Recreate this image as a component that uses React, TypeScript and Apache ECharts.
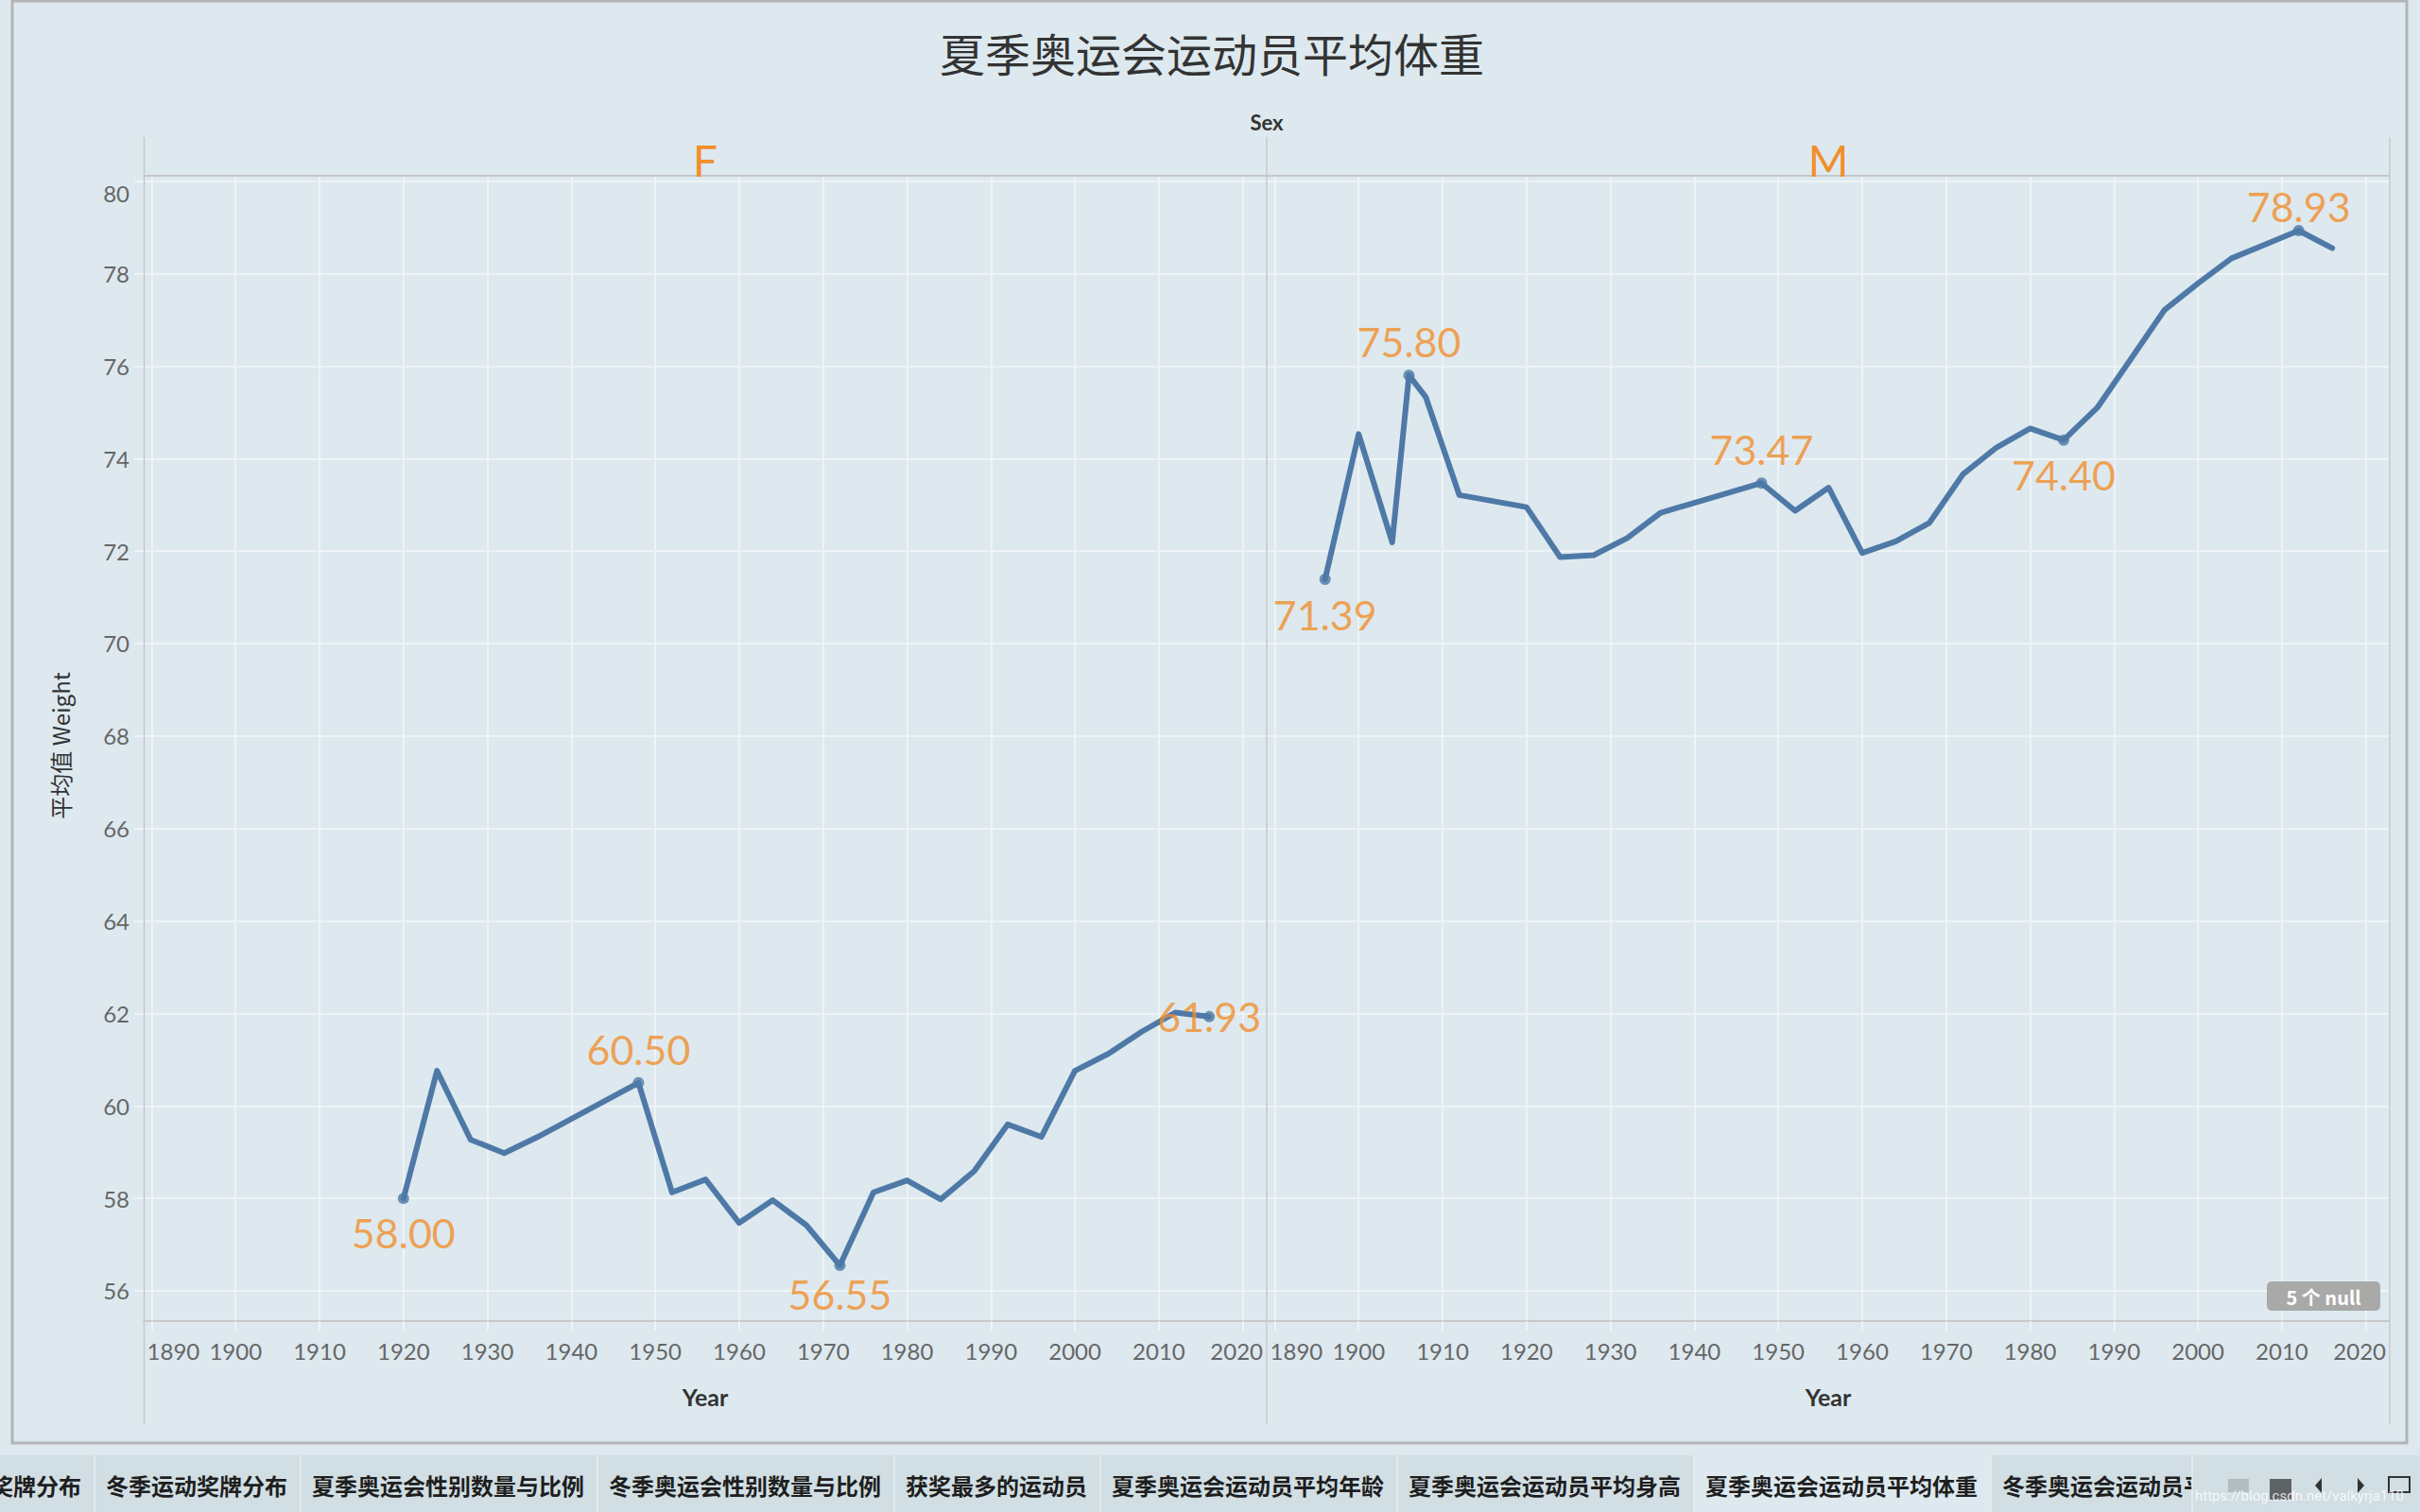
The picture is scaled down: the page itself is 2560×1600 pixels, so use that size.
import React, { useEffect, useRef } from 'react';
import * as echarts from 'echarts';

// ---------- data ----------
const sexCategories = ['F', 'M'];
const femaleYears = [1920, 1924, 1928, 1932, 1936, 1948, 1952, 1956, 1960, 1964, 1968, 1972, 1976, 1980, 1984, 1988, 1992, 1996, 2000, 2004, 2008, 2012, 2016];
const femaleWeight = [58.0, 60.76, 59.27, 58.98, 59.33, 60.5, 58.13, 58.41, 57.47, 57.96, 57.42, 56.55, 58.13, 58.39, 57.98, 58.59, 59.6, 59.33, 60.76, 61.13, 61.61, 62.02, 61.93];
const maleYears = [1896, 1900, 1904, 1906, 1908, 1912, 1920, 1924, 1928, 1932, 1936, 1948, 1952, 1956, 1960, 1964, 1968, 1972, 1976, 1980, 1984, 1988, 1992, 1996, 2000, 2004, 2008, 2012, 2016];
const maleWeight = [71.39, 74.53, 72.19, 75.8, 75.33, 73.21, 72.95, 71.87, 71.91, 72.28, 72.83, 73.47, 72.87, 73.37, 71.96, 72.21, 72.61, 73.66, 74.24, 74.65, 74.4, 75.1, 76.15, 77.21, 77.79, 78.33, 78.63, 78.93, 78.55];
const femaleLabelYears = [1920, 1948, 1972, 2016];
const maleLabelYears = [1896, 1906, 1948, 1984, 2012];
const yTickValues = [56, 58, 60, 62, 64, 66, 68, 70, 72, 74, 76, 78, 80];
const xTickValues = [1890, 1900, 1910, 1920, 1930, 1940, 1950, 1960, 1970, 1980, 1990, 2000, 2010, 2020];
const tabNames = ['奖牌分布', '冬季运动奖牌分布', '夏季奥运会性别数量与比例', '冬季奥运会性别数量与比例', '获奖最多的运动员', '夏季奥运会运动员平均年龄', '夏季奥运会运动员平均身高', '夏季奥运会运动员平均体重', '冬季奥运会运动员平'];
const activeTab = '夏季奥运会运动员平均体重';
const nullNote = '5 个 null';
const titleText = '夏季奥运会运动员平均体重';
const yAxisTitle = '平均值 Weight';
const xAxisTitle = 'Year';
const headerTitle = 'Sex';

// ---------- style ----------
const BG = '#dde9ef';
const GRID = '#eff3f5';
const BORDER = '#c8c8c8';
const LINE = '#4e79a7';
const ORANGE = '#f28e2b';
const NUM_FONT = 'Lato';
const CJK_FONT = 'Noto Sans CJK SC';

const labelPlacement: Record<string, any> = {
  'F1920': { position: 'bottom', distance: 9 },
  'F1948': { position: 'top', distance: 8 },
  'F1972': { position: 'bottom', distance: 3 },
  'F2016': { position: 'inside' },
  'M1896': { position: 'bottom', distance: 10 },
  'M1906': { position: 'top', distance: 8 },
  'M1948': { position: 'top', distance: 8 },
  'M1984': { position: 'bottom', distance: 9 },
  'M2012': { position: 'top', distance: -2 },
};

function App() {
  const ref = useRef<HTMLDivElement>(null);
  useEffect(() => {
    if (!ref.current) return;
    const chart = echarts.init(ref.current, null, { renderer: 'svg' });

    const panelLeft = [152, 1340];
    const panelWidth = 1188;
    const gridTop = 186;
    const gridHeight = 1212;
    const xMin = 1889.05;
    const xMax = 2022.85;
    const yMin = 55.346;
    const yMax = 80.116;

    const isTick = (v: number, ticks: number[]) => ticks.some((t) => Math.abs(t - v) < 1e-6);
    const labelStyle = { fontSize: 24, color: '#666666', fontFamily: NUM_FONT };

    const xAxes = sexCategories.map((_, i) => ({
      type: 'value',
      gridIndex: i,
      min: xMin,
      max: xMax,
      splitNumber: 13,
      axisLine: { show: true, lineStyle: { color: BORDER, width: 2 } },
      axisTick: { show: true, length: 10, lineStyle: { color: GRID, width: 2 } },
      splitLine: { show: true, showMinLine: false, showMaxLine: false, lineStyle: { color: GRID, width: 2 } },
      axisLabel: {
        show: true,
        margin: 19,
        ...labelStyle,
        showMinLabel: false,
        showMaxLabel: false,
        formatter: (v: number) => {
          if (!isTick(v, xTickValues)) return '';
          const r = Math.round(v);
          if (r === xTickValues[0]) return '{first|' + r + '}';
          if (r === xTickValues[xTickValues.length - 1]) return '{last|' + r + '}';
          return String(r);
        },
        rich: {
          first: { padding: [0, 0, 0, 46], ...labelStyle },
          last: { padding: [0, 13, 0, 0], ...labelStyle },
        },
      },
    }));

    const yAxes = sexCategories.map((_, i) => ({
      type: 'value',
      gridIndex: i,
      min: yMin,
      max: yMax,
      splitNumber: 12,
      axisLine: { show: false },
      axisTick: { show: i === 0, length: 10, lineStyle: { color: GRID, width: 2 } },
      splitLine: { show: true, showMinLine: false, showMaxLine: false, lineStyle: { color: GRID, width: 2 } },
      axisLabel: {
        show: i === 0,
        margin: 15,
        ...labelStyle,
        showMinLabel: false,
        showMaxLabel: false,
        formatter: (v: number) => {
          if (!isTick(v, yTickValues)) return '';
          const r = Math.round(v);
          if (r === yTickValues[yTickValues.length - 1]) return '{top|' + r + '}';
          return String(r);
        },
        rich: {
          top: { padding: [25, 0, 0, 0], ...labelStyle },
        },
      },
    }));

    const groups = [
      { key: 'F', years: femaleYears, values: femaleWeight, labels: femaleLabelYears },
      { key: 'M', years: maleYears, values: maleWeight, labels: maleLabelYears },
    ];

    const series: any[] = [];
    groups.forEach((g, i) => {
      series.push({
        type: 'line',
        name: g.key,
        xAxisIndex: i,
        yAxisIndex: i,
        data: g.years.map((y, k) => [y, g.values[k]]),
        symbol: 'none',
        lineStyle: { color: LINE, width: 6, cap: 'round', join: 'round' },
        z: 3,
      });
      series.push({
        type: 'scatter',
        name: g.key + ' labels',
        xAxisIndex: i,
        yAxisIndex: i,
        symbol: 'circle',
        symbolSize: 12,
        itemStyle: { color: LINE },
        z: 4,
        data: g.labels.map((yr) => {
          const idx = g.years.indexOf(yr);
          const place = labelPlacement[g.key + yr] || { position: 'top', distance: 10 };
          return {
            value: [yr, g.values[idx]],
            label: {
              show: true,
              ...place,
              color: ORANGE,
              fontSize: 43,
              fontFamily: NUM_FONT,
              formatter: (p: any) => p.value[1].toFixed(2),
            },
          };
        }),
      });
    });

    // tabs
    const tabElems: any[] = [];
    tabElems.push({ type: 'rect', shape: { x: 0, y: 1540, width: 2560, height: 60 }, style: { fill: '#d1dee4' }, z: 50 });
    const tabRects: { name: string; x0: number; x1: number }[] = [];
    tabRects.push({ name: tabNames[0], x0: 100 - 14 - tabNames[0].length * 24 - 12, x1: 100 });
    let tx = 100;
    for (let i = 1; i < tabNames.length; i++) {
      const w = i === tabNames.length - 1 ? 12 * 24 + 26 : tabNames[i].length * 24 + 26;
      tabRects.push({ name: tabNames[i], x0: tx, x1: tx + w });
      tx += w;
    }
    tabRects.forEach((t) => {
      if (t.name === activeTab) {
        tabElems.push({ type: 'rect', shape: { x: t.x0, y: 1540, width: t.x1 - t.x0, height: 60 }, style: { fill: BG }, z: 51 });
      }
      tabElems.push({
        type: 'text',
        x: t.x0 + 12,
        y: 1571,
        style: { text: t.name, fontSize: 24, fontWeight: 'bold', fontFamily: CJK_FONT, fill: '#1e1e1e', verticalAlign: 'middle', align: 'left' },
        z: 52,
      });
      tabElems.push({ type: 'line', shape: { x1: t.x1, y1: 1540, x2: t.x1, y2: 1600 }, style: { stroke: '#e6eef2', lineWidth: 1.5 }, z: 52 });
    });
    tabElems.push({ type: 'rect', shape: { x: 2319, y: 1540, width: 241, height: 60 }, style: { fill: '#d1dee4' }, z: 53 });
    tabElems.push({ type: 'line', shape: { x1: 2319, y1: 1540, x2: 2319, y2: 1600 }, style: { stroke: '#e6eef2', lineWidth: 1.5 }, z: 54 });
    tabElems.push({ type: 'rect', shape: { x: 2357, y: 1565, width: 22, height: 14 }, style: { fill: '#b3bcc0' }, z: 54 });
    tabElems.push({ type: 'rect', shape: { x: 2401, y: 1565, width: 23, height: 22 }, style: { fill: '#5e6366' }, z: 54 });
    tabElems.push({ type: 'polygon', shape: { points: [[2456, 1564], [2456, 1580], [2449, 1572]] }, style: { fill: '#333' }, z: 54 });
    tabElems.push({ type: 'polygon', shape: { points: [[2494, 1564], [2494, 1580], [2501, 1572]] }, style: { fill: '#333' }, z: 54 });
    tabElems.push({ type: 'rect', shape: { x: 2527, y: 1563, width: 22, height: 16 }, style: { fill: 'none', stroke: '#333', lineWidth: 2 }, z: 54 });
    tabElems.push({
      type: 'text', x: 2322, y: 1583,
      style: { text: 'https://blog.csdn.net/valkyrja110', fontSize: 15, fontFamily: 'Roboto', fill: 'rgba(255,255,255,0.8)', verticalAlign: 'middle' },
      z: 55,
    });

    const option: any = {
      animation: false,
      backgroundColor: BG,
      grid: panelLeft.map((l) => ({ left: l, top: gridTop, width: panelWidth, height: gridHeight, containLabel: false })),
      xAxis: xAxes,
      yAxis: yAxes,
      series,
      graphic: [
        { type: 'rect', shape: { x: 13, y: 1, width: 2533, height: 1526 }, style: { fill: 'none', stroke: '#b4b4b4', lineWidth: 3 }, z: 100 },
        { type: 'line', shape: { x1: 152.5, y1: 145, x2: 152.5, y2: 1507 }, style: { stroke: BORDER, lineWidth: 1.5 }, z: 100 },
        { type: 'line', shape: { x1: 1340, y1: 145, x2: 1340, y2: 1507 }, style: { stroke: BORDER, lineWidth: 1.5 }, z: 100 },
        { type: 'line', shape: { x1: 2528, y1: 145, x2: 2528, y2: 1507 }, style: { stroke: BORDER, lineWidth: 1.5 }, z: 100 },
        { type: 'line', shape: { x1: 152, y1: 186, x2: 2528, y2: 186 }, style: { stroke: BORDER, lineWidth: 2 }, z: 100 },
        { type: 'text', x: 1282, y: 55, style: { text: titleText, fontSize: 48, fontFamily: CJK_FONT, fill: '#333333', align: 'center', verticalAlign: 'middle' }, z: 100 },
        { type: 'text', x: 1340, y: 129, style: { text: headerTitle, fontSize: 22, fontWeight: 'bold', fontFamily: NUM_FONT, fill: '#333333', align: 'center', verticalAlign: 'middle' }, z: 100 },
        ...sexCategories.map((s, i) => ({
          type: 'text', x: panelLeft[i] + panelWidth / 2, y: 169,
          style: { text: s, fontSize: 46, fontFamily: NUM_FONT, fill: ORANGE, align: 'center', verticalAlign: 'middle' }, z: 100,
        })),
        ...sexCategories.map((_, i) => ({
          type: 'text', x: panelLeft[i] + panelWidth / 2, y: 1478,
          style: { text: xAxisTitle, fontSize: 25, fontWeight: 'bold', fontFamily: NUM_FONT, fill: '#333333', align: 'center', verticalAlign: 'middle' }, z: 100,
        })),
        { type: 'text', x: 63, y: 789, rotation: Math.PI / 2, style: { text: yAxisTitle, fontSize: 24, fontFamily: CJK_FONT, fill: '#333333', align: 'center', verticalAlign: 'middle' }, z: 100 },
        { type: 'rect', shape: { x: 2398, y: 1356, width: 120, height: 31, r: 5 }, style: { fill: '#a9a9a9' }, z: 100 },
        { type: 'text', x: 2458, y: 1372, style: { text: nullNote, fontSize: 20, fontWeight: 'bold', fontFamily: CJK_FONT, fill: '#ffffff', align: 'center', verticalAlign: 'middle' }, z: 101 },
        ...tabElems,
      ],
    };
    chart.setOption(option);
    return () => chart.dispose();
  }, []);
  return <div ref={ref} style={{ position: 'fixed', left: 0, top: 0, width: 2560, height: 1600, background: BG }} />;
}

export default App;
